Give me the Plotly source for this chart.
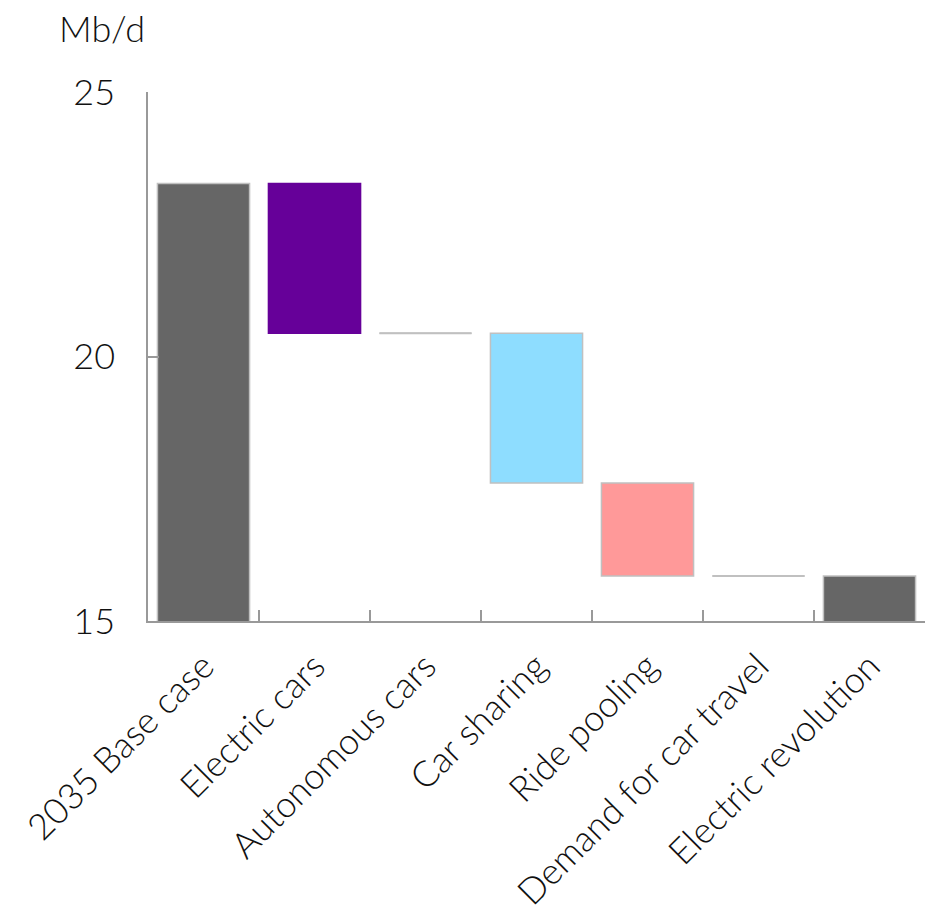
import plotly.graph_objects as go

categories = ["2035 Base case", "Electric cars", "Autonomous cars", "Car sharing",
              "Ride pooling", "Demand for car travel", "Electric revolution"]
base_case = 23.27
changes = [-2.83, 0.0, -2.83, -1.76, 0.0]   # Electric cars .. Demand for car travel
bar_colors = ["#666666", "#660099", "#666666", "#8EDDFF", "#FF9999", "#666666", "#666666"]
line_colors = ["#c0c0c0", "#660099", "#c0c0c0", "#c0c0c0", "#c0c0c0", "#c0c0c0", "#c0c0c0"]
y_ticks = [15, 20, 25]
unit_label = "Mb/d"

FONT = dict(family="Lato, Inter, sans-serif", size=36, color="#111111", weight=300)
XFONT = dict(FONT, size=36)

# running levels
bases, heights = [0.0], [base_case]
level = base_case
for c in changes:
    bases.append(level + c if c < 0 else level)
    heights.append(abs(c))
    level += c
bases.append(0.0)
heights.append(level)

fig = go.Figure()
fig.add_trace(go.Bar(
    x=categories, y=heights, base=bases, width=0.83,
    marker=dict(color=bar_colors, line=dict(color=line_colors, width=1.5)),
    hoverinfo="skip", showlegend=False,
))

# zero-change steps drawn as a flat grey line at the running level
level = base_case
for i, c in enumerate(changes, start=1):
    if c == 0:
        fig.add_shape(type="line", xref="x", yref="y",
                      x0=i - 0.415, x1=i + 0.415, y0=level, y1=level,
                      line=dict(color="#c0c0c0", width=2))
    level += c

fig.update_layout(
    width=926, height=922,
    margin=dict(l=148, r=1, t=92, b=301),
    paper_bgcolor="white", plot_bgcolor="white",
    font=FONT,
    bargap=0.17,
    xaxis=dict(type="category", tickson="boundaries", ticks="inside", ticklen=11,
               tickcolor="#999999", tickwidth=1.5, showline=True, linecolor="#999999",
               linewidth=1.5, tickangle=-45, showgrid=False, zeroline=False,
               tickfont=XFONT, range=[-0.5, 6.5], automargin=False,
               ticklabelstandoff=8),
    yaxis=dict(range=[15, 25], tickvals=y_ticks, ticks="inside", ticklen=11,
               tickcolor="#999999", tickwidth=1.5, showline=True, linecolor="#999999",
               linewidth=1.5, showgrid=False, zeroline=False, tickfont=FONT,
               ticklabelstandoff=24, automargin=False),
    annotations=[dict(text=unit_label, xref="paper", yref="paper",
                      x=(57 - 148) / 777, y=1 + 64 / 529, xanchor="left", yanchor="middle",
                      showarrow=False, font=FONT)],
)

fig.write_html("out.html", config={"displayModeBar": False},
               post_script="document.body.style.margin='0';document.body.style.overflow='hidden';")
